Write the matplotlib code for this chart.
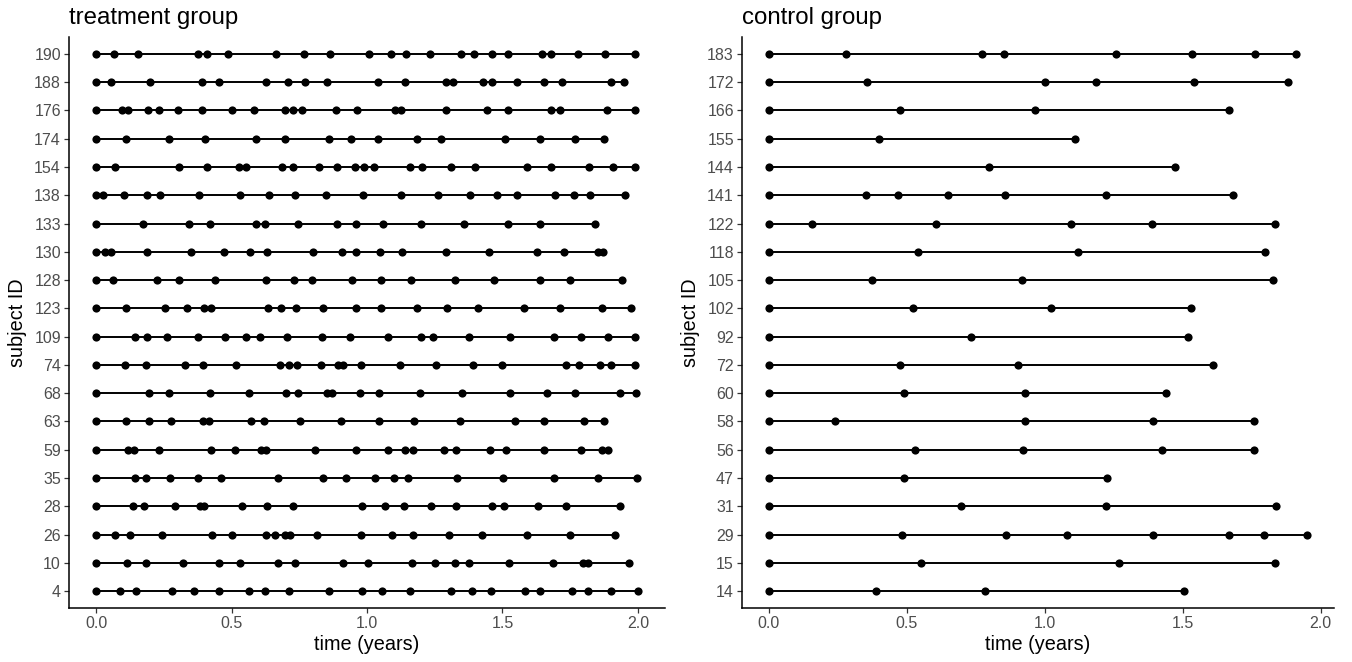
import matplotlib
matplotlib.use("Agg")
import matplotlib.pyplot as plt

# ---------------- data ----------------
treat_ids = [4, 10, 26, 28, 35, 59, 63, 68, 74, 109, 123, 128, 130, 133, 138, 154, 174, 176, 188, 190]
treat_times = [
    [0, 0.087, 0.147, 0.279, 0.361, 0.453, 0.563, 0.623, 0.712, 0.859, 0.981, 1.055, 1.159, 1.310, 1.388, 1.458, 1.584, 1.640, 1.758, 1.815, 1.899, 2.0],
    [0, 0.113, 0.186, 0.321, 0.452, 0.530, 0.673, 0.735, 0.910, 1.005, 1.166, 1.251, 1.323, 1.376, 1.526, 1.685, 1.796, 1.817, 1.966],
    [0, 0.070, 0.125, 0.245, 0.428, 0.500, 0.627, 0.661, 0.697, 0.715, 0.816, 0.978, 1.093, 1.171, 1.303, 1.423, 1.590, 1.748, 1.917],
    [0, 0.136, 0.178, 0.291, 0.383, 0.400, 0.537, 0.630, 0.725, 0.980, 1.068, 1.135, 1.236, 1.330, 1.460, 1.507, 1.632, 1.733, 1.934],
    [0, 0.144, 0.183, 0.274, 0.378, 0.462, 0.670, 0.838, 0.922, 1.031, 1.101, 1.153, 1.332, 1.503, 1.691, 1.854, 1.998],
    [0, 0.116, 0.141, 0.234, 0.424, 0.511, 0.609, 0.626, 0.808, 0.959, 1.076, 1.142, 1.170, 1.285, 1.327, 1.454, 1.514, 1.653, 1.791, 1.868, 1.889],
    [0, 0.111, 0.197, 0.277, 0.396, 0.417, 0.572, 0.621, 0.752, 0.903, 1.045, 1.174, 1.344, 1.545, 1.654, 1.800, 1.873],
    [0, 0.195, 0.270, 0.420, 0.565, 0.701, 0.746, 0.853, 0.872, 0.973, 1.045, 1.194, 1.351, 1.527, 1.664, 1.769, 1.933, 1.993],
    [0, 0.106, 0.183, 0.330, 0.396, 0.516, 0.680, 0.712, 0.743, 0.829, 0.892, 0.910, 0.978, 1.121, 1.254, 1.391, 1.500, 1.733, 1.782, 1.860, 1.901, 1.989],
    [0, 0.144, 0.189, 0.260, 0.376, 0.476, 0.554, 0.605, 0.705, 0.833, 0.936, 1.079, 1.201, 1.243, 1.377, 1.527, 1.691, 1.789, 1.891, 1.989],
    [0, 0.109, 0.253, 0.334, 0.397, 0.423, 0.635, 0.684, 0.738, 0.837, 0.960, 1.051, 1.183, 1.296, 1.411, 1.579, 1.713, 1.866, 1.976],
    [0, 0.063, 0.223, 0.305, 0.439, 0.626, 0.729, 0.796, 0.946, 1.051, 1.162, 1.323, 1.470, 1.640, 1.748, 1.941],
    [0, 0.034, 0.055, 0.189, 0.351, 0.472, 0.567, 0.631, 0.799, 0.908, 0.960, 1.047, 1.128, 1.290, 1.451, 1.629, 1.726, 1.852, 1.870],
    [0, 0.174, 0.343, 0.421, 0.592, 0.623, 0.745, 0.889, 0.959, 1.058, 1.199, 1.358, 1.521, 1.638, 1.842],
    [0, 0.024, 0.104, 0.188, 0.237, 0.379, 0.533, 0.638, 0.735, 0.847, 0.984, 1.125, 1.261, 1.380, 1.479, 1.555, 1.695, 1.764, 1.824, 1.952],
    [0, 0.071, 0.305, 0.410, 0.526, 0.554, 0.687, 0.725, 0.823, 0.889, 0.956, 0.988, 1.024, 1.160, 1.204, 1.310, 1.397, 1.591, 1.678, 1.821, 1.908, 1.990],
    [0, 0.111, 0.269, 0.402, 0.592, 0.696, 0.859, 0.942, 1.041, 1.185, 1.275, 1.510, 1.640, 1.766, 1.875],
    [0, 0.097, 0.116, 0.193, 0.231, 0.304, 0.392, 0.502, 0.584, 0.697, 0.728, 0.761, 0.886, 0.963, 1.104, 1.125, 1.290, 1.442, 1.521, 1.678, 1.712, 1.887, 1.989],
    [0, 0.056, 0.199, 0.392, 0.454, 0.627, 0.707, 0.771, 0.854, 1.041, 1.141, 1.293, 1.316, 1.429, 1.462, 1.555, 1.653, 1.720, 1.899, 1.947],
    [0, 0.067, 0.155, 0.378, 0.409, 0.487, 0.665, 0.766, 0.864, 1.008, 1.089, 1.144, 1.232, 1.346, 1.394, 1.461, 1.521, 1.647, 1.679, 1.779, 1.877, 1.989],
]

ctrl_ids = [14, 15, 29, 31, 47, 56, 58, 60, 72, 92, 102, 105, 118, 122, 141, 144, 155, 166, 172, 183]
ctrl_times = [
    [0, 0.388, 0.783, 1.503],
    [0, 0.553, 1.268, 1.836],
    [0, 0.481, 0.860, 1.082, 1.394, 1.668, 1.796, 1.951],
    [0, 0.697, 1.222, 1.839],
    [0, 0.488, 1.226],
    [0, 0.528, 0.921, 1.424, 1.758],
    [0, 0.239, 0.928, 1.394, 1.760],
    [0, 0.488, 0.928, 1.439],
    [0, 0.474, 0.903, 1.611],
    [0, 0.732, 1.519],
    [0, 0.521, 1.024, 1.531],
    [0, 0.374, 0.917, 1.828],
    [0, 0.539, 1.119, 1.800],
    [0, 0.158, 0.606, 1.096, 1.388, 1.836],
    [0, 0.351, 0.468, 0.650, 0.857, 1.222, 1.682],
    [0, 0.797, 1.472],
    [0, 0.400, 1.108],
    [0, 0.475, 0.964, 1.669],
    [0, 0.356, 1.000, 1.185, 1.542, 1.882],
    [0, 0.278, 0.771, 0.851, 1.257, 1.532, 1.761, 1.910],
]

panel_titles = ["treatment group", "control group"]
x_ticks = [0.0, 0.5, 1.0, 1.5, 2.0]
x_label = "time (years)"
y_label = "subject ID"

# ---------------- style ----------------
plt.rcParams['font.family'] = ['Liberation Sans', 'DejaVu Sans']

W, H = 1352, 662
fig = plt.figure(figsize=(W / 100, H / 100), dpi=100)

def px_axes(x0, x1, ytop, ybot):
    return fig.add_axes([x0 / W, (H - ybot) / H, (x1 - x0) / W, (ybot - ytop) / H])

axes = [px_axes(69, 665, 37, 608), px_axes(742, 1334, 37, 608)]
groups = [(treat_ids, treat_times), (ctrl_ids, ctrl_times)]

for ax, (ids, times), title in zip(axes, groups, panel_titles):
    for pos, t in enumerate(times):
        ax.plot(t, [pos] * len(t), '-', color='black', lw=1.4, solid_capstyle='butt', zorder=2)
        ax.plot(t, [pos] * len(t), 'o', color='black', ms=5.9, mew=0, zorder=3)
    tmax = max(max(t) for t in times)
    tmin = 0.0
    ext = (tmax - tmin) * 0.05
    ax.set_xlim(tmin - ext, tmax + ext)
    ax.set_ylim(-0.6, len(ids) - 1 + 0.6)
    ax.set_yticks(range(len(ids)))
    ax.set_yticklabels([str(i) for i in ids])
    ax.set_xticks(x_ticks)
    ax.set_xticklabels([f"{v:.1f}" for v in x_ticks])
    for s in ['top', 'right']:
        ax.spines[s].set_visible(False)
    for s in ['left', 'bottom']:
        ax.spines[s].set_linewidth(1.1)
        ax.spines[s].set_color('black')
    ax.tick_params(axis='both', length=3.3, width=0.9, color='#333333',
                   labelsize=11.5, labelcolor='#4D4D4D', pad=2.5)
    ax.set_xlabel(x_label, fontsize=14.3, labelpad=3, color='black')
    ax.set_ylabel(y_label, fontsize=14.3, labelpad=5, color='black')
    ax.set_title(title, loc='left', fontsize=17.3, pad=9.5, color='black')
    ax.set_facecolor('white')

fig.savefig("out.png", dpi=100, facecolor='white')
